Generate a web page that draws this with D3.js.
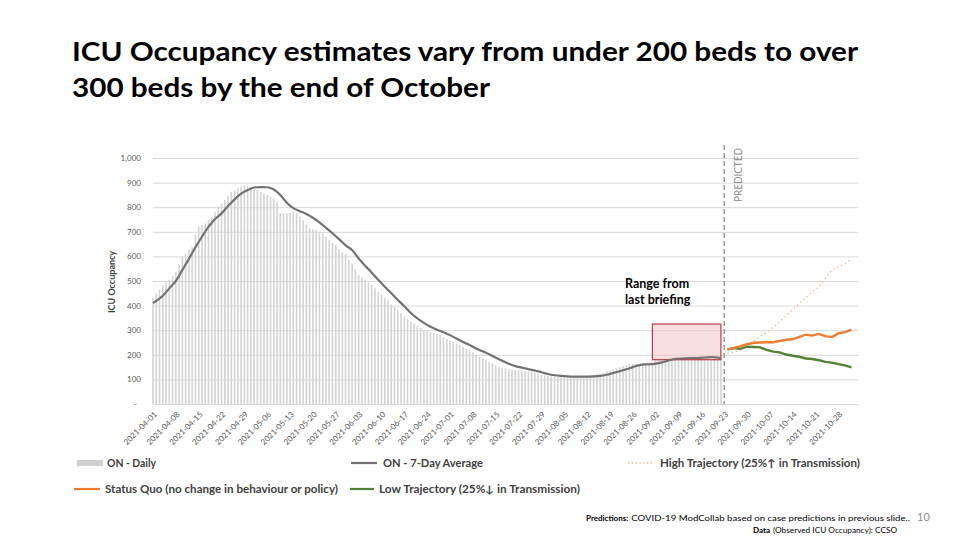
<!DOCTYPE html>
<html>
<head>
<meta charset="utf-8">
<script src="https://cdn.jsdelivr.net/npm/d3@7"></script>
<style>
  body { margin: 0; background: #fff; }
  svg { display: block; font-family: Lato, "Open Sans", sans-serif; }
</style>
</head>
<body>
<svg id="chart" width="960" height="540"></svg>
<script>
// observed daily ICU occupancy, one value per day from 2021-04-01 to 2021-09-22
var startDate = "2021-04-01";
var dailyValues = [
  430, 450, 465, 484, 495, 504, 520, 538, 565, 599,
  612, 626, 640, 687, 721, 728, 734, 748, 761, 780,
  802, 815, 829, 845, 863, 868, 876, 880, 886, 885,
  876, 872, 870, 862, 856, 850, 843, 835, 822, 775,
  775, 775, 778, 782, 775, 760, 748, 730, 714, 710,
  707, 700, 694, 680, 667, 655, 646, 630, 619,
  610, 585, 570, 548, 524, 515, 505, 495, 484, 470,
  455, 445, 430, 420, 405, 395, 382, 370, 355, 345,
  335, 328, 318, 310, 301, 298, 292, 288, 284, 280,
  272, 265, 258, 253, 246, 240, 232, 226, 218, 210,
  200, 192, 185, 178, 170, 165, 158, 152, 148, 145,
  142, 140, 139, 138, 136, 134, 132, 131, 127, 123,
  119, 116, 114, 112, 111, 110, 110, 109, 110, 110,
  111, 111, 112, 113, 114, 116, 118, 121, 124, 128,
  132, 136, 140, 145, 150, 155, 158, 162, 163, 164,
  163, 164, 166, 168, 172, 176, 180, 184, 187, 188,
  188, 189, 190, 188, 189, 190, 191, 192, 190, 191,
  192, 193, 192, 190, 188, 187
];

// 7-day average, day offsets from startDate
var avgDays = [0, 3, 5, 7, 9, 11, 13, 15, 17, 19, 21, 23, 25, 27, 29, 31, 33, 35, 37, 39,
  41, 43, 45, 47, 49, 51, 53, 55, 57, 59, 61, 63, 65, 67, 69, 71, 73, 75, 77, 79,
  81, 83, 85, 87, 89, 91, 93, 95, 97, 99, 101, 103, 105, 107, 109, 111, 113, 115, 117, 119,
  121, 123, 125, 127, 129, 131, 133, 135, 137, 139, 141, 143, 145, 147, 149, 151, 153, 155, 157, 159,
  161, 163, 165, 167, 169, 171, 173, 174];
var avgValues = [410, 440, 470, 500, 545, 590, 637, 680, 720, 752,
  775, 805, 832, 855, 870, 880, 882, 881, 872, 850,
  818, 796, 784, 772, 757, 738, 716, 694, 670, 645,
  626, 592, 562, 534, 505, 477, 450, 423, 397, 370,
  348, 330, 314, 302, 292, 280, 266, 252, 240, 226,
  214, 202, 188, 176, 164, 154, 148, 142, 136, 129,
  122, 117, 114, 112, 111, 111, 111, 112, 114, 119,
  126, 133, 141, 150, 158, 161, 162, 166, 173, 181,
  184, 186, 187, 187, 189, 191, 189, 186];

// predictions, day offsets from startDate (2021-09-24 .. 2021-11-01)
var predDays = [176, 178, 180, 182, 184, 186, 188, 190, 192, 194, 196, 198, 200, 202, 204, 206, 208, 210, 212, 214];
var statusQuo = [222, 228, 235, 243, 249, 250, 251, 251, 256, 261, 263, 273, 282, 278, 285, 276, 272, 287, 292, 302];
var lowTrajectory = [222, 227, 224, 233, 232, 230, 220, 213, 210, 201, 196, 192, 185, 183, 178, 171, 168, 162, 157, 149];
var highTrajectory = [206, 210, 220, 230, 255, 275, 290, 312, 335, 358, 385, 408, 433, 455, 476, 510, 545, 558, 570, 588];

var rangeDates = ["2021-09-01", "2021-09-22"];
var rangeValues = [180, 325];
var predictedFrom = "2021-09-23";
var yTicks = [0, 100, 200, 300, 400, 500, 600, 700, 800, 900, 1000];

var parse = d3.timeParse("%Y-%m-%d");
var t0 = parse(startDate);
function dayDate(d) { return d3.timeDay.offset(t0, d); }

var svg = d3.select("#chart");
var x = d3.scaleTime().domain([t0, parse("2021-11-03")]).range([153, 858]);
var y = d3.scaleLinear().domain([0, 1000]).range([404, 158]);

// title
var title = svg.append("g").attr("font-weight", 700).attr("font-size", 27).attr("fill", "#000");
title.append("text").attr("x", 72).attr("y", 61)
  .attr("textLength", 786).attr("lengthAdjust", "spacingAndGlyphs")
  .text("ICU Occupancy estimates vary from under 200 beds to over");
title.append("text").attr("x", 72).attr("y", 97)
  .attr("textLength", 418).attr("lengthAdjust", "spacingAndGlyphs")
  .text("300 beds by the end of October");

// y grid + labels
var yAxis = svg.append("g").attr("transform", "translate(153,0)")
  .call(d3.axisLeft(y).tickValues(yTicks).tickSize(-705).tickPadding(12)
    .tickFormat(function(d) { return d === 0 ? "-" : d3.format(",")(d); }));
yAxis.select(".domain").remove();
yAxis.selectAll("line").attr("stroke", "#d9d9d9");
yAxis.selectAll("text").attr("fill", "#595959").attr("font-size", 8).attr("font-family", "Lato, sans-serif");
yAxis.selectAll(".tick").filter(function(d) { return d === 0; }).select("line").remove();
yAxis.selectAll(".tick").filter(function(d) { return d === 0; }).select("text").attr("dx", -4);

svg.append("text")
  .attr("transform", "translate(115,282) rotate(-90)")
  .attr("text-anchor", "middle").attr("font-size", 9).attr("font-weight", 700)
  .attr("fill", "#404040").text("ICU Occupancy");

// x axis
var tickDates = d3.range(0, 211, 7).map(dayDate);
var xAxis = svg.append("g").attr("transform", "translate(0,404)")
  .call(d3.axisBottom(x).tickValues(tickDates).tickSize(0).tickFormat(d3.timeFormat("%Y-%m-%d")));
xAxis.select(".domain").attr("stroke", "#d9d9d9");
xAxis.selectAll("text")
  .attr("fill", "#595959").attr("font-size", 8).attr("font-family", "Lato, sans-serif")
  .attr("text-anchor", "end").attr("y", 0).attr("dy", "0.35em")
  .attr("transform", "translate(2,9) rotate(-45)");

// daily bars
svg.append("g").selectAll("rect").data(dailyValues).join("rect")
  .attr("x", function(d, i) { return x(dayDate(i)) - 0.8; })
  .attr("width", 1.6)
  .attr("y", function(d) { return y(d); })
  .attr("height", function(d) { return y(0) - y(d); })
  .attr("fill", "#d3d3d3");

// range from last briefing
var bx0 = x(parse(rangeDates[0])), bx1 = x(parse(rangeDates[1]));
svg.append("rect")
  .attr("x", bx0).attr("width", bx1 - bx0)
  .attr("y", y(rangeValues[1])).attr("height", y(rangeValues[0]) - y(rangeValues[1]))
  .attr("fill", "#f2b8bd").attr("fill-opacity", 0.45)
  .attr("stroke", "#b83a45").attr("stroke-width", 1.2);

var rangeLabel = svg.append("g").attr("font-size", 12.5).attr("font-weight", 700).attr("fill", "#000");
rangeLabel.append("text").attr("x", 625).attr("y", 288).text("Range from");
rangeLabel.append("text").attr("x", 625).attr("y", 304).text("last briefing");

// 7-day average
var avgLine = d3.line()
  .x(function(d) { return x(dayDate(d[0])); })
  .y(function(d) { return y(d[1]); })
  .curve(d3.curveMonotoneX);
svg.append("path").datum(d3.zip(avgDays, avgValues))
  .attr("d", avgLine).attr("fill", "none")
  .attr("stroke", "#767171").attr("stroke-width", 2.2);

// predicted marker
var px = x(parse(predictedFrom));
svg.append("line").attr("x1", px).attr("x2", px).attr("y1", 145).attr("y2", 404)
  .attr("stroke", "#7f7f7f").attr("stroke-width", 1.2).attr("stroke-dasharray", "5,3");
svg.append("text").attr("transform", "translate(" + (px + 18) + ",202) rotate(-90)")
  .attr("font-size", 11).attr("fill", "#8c8c8c")
  .attr("textLength", 54).attr("lengthAdjust", "spacingAndGlyphs")
  .text("PREDICTED");

// prediction lines
var predLine = d3.line()
  .x(function(d) { return x(dayDate(d[0])); })
  .y(function(d) { return y(d[1]); });
svg.append("path").datum(d3.zip(predDays, highTrajectory))
  .attr("d", predLine).attr("fill", "none")
  .attr("stroke", "#f4b183").attr("stroke-width", 1.3).attr("stroke-dasharray", "1.3,3");
svg.append("path").datum(d3.zip(predDays, lowTrajectory))
  .attr("d", predLine).attr("fill", "none")
  .attr("stroke", "#548235").attr("stroke-width", 2.4);
svg.append("path").datum(d3.zip(predDays, statusQuo))
  .attr("d", predLine).attr("fill", "none")
  .attr("stroke", "#ed7d31").attr("stroke-width", 2.4);

// legend
var legend = svg.append("g").attr("font-size", 10.5).attr("font-weight", 700).attr("fill", "#404040");
function legendText(xp, yp, len, txt) {
  legend.append("text").attr("x", xp).attr("y", yp).attr("dy", "0.35em")
    .attr("textLength", len).attr("lengthAdjust", "spacingAndGlyphs").text(txt);
}
legend.append("rect").attr("x", 77).attr("y", 460).attr("width", 26).attr("height", 6).attr("fill", "#d0d0d0");
legendText(107, 463, 49, "ON - Daily");
legend.append("line").attr("x1", 351).attr("x2", 377).attr("y1", 463).attr("y2", 463)
  .attr("stroke", "#767171").attr("stroke-width", 2.2);
legendText(383, 463, 100, "ON - 7-Day Average");
legend.append("line").attr("x1", 628).attr("x2", 654).attr("y1", 463).attr("y2", 463)
  .attr("stroke", "#f4b183").attr("stroke-width", 1.3).attr("stroke-dasharray", "1.3,2.5");
legendText(660, 463, 200, "High Trajectory (25%\u2191 in Transmission)");
legend.append("line").attr("x1", 74).attr("x2", 100).attr("y1", 489).attr("y2", 489)
  .attr("stroke", "#ed7d31").attr("stroke-width", 2.2);
legendText(105, 489, 233, "Status Quo (no change in behaviour or policy)");
legend.append("line").attr("x1", 350).attr("x2", 374).attr("y1", 489).attr("y2", 489)
  .attr("stroke", "#548235").attr("stroke-width", 2.2);
legendText(379, 489, 201, "Low Trajectory (25%\u2193 in Transmission)");

// footnotes
var foot = svg.append("g").attr("font-size", 8).attr("fill", "#000");
var p1 = foot.append("text").attr("x", 586).attr("y", 521).attr("font-weight", 700).text("Predictions:");
var w1 = p1.node().getComputedTextLength();
foot.append("text").attr("x", 586 + w1 + 3).attr("y", 521)
  .attr("textLength", 910 - (586 + w1 + 3)).attr("lengthAdjust", "spacingAndGlyphs")
  .text("COVID-19 ModCollab based on case predictions in previous slide..");
var p2 = foot.append("text").attr("x", 753).attr("y", 533).attr("font-weight", 700).text("Data");
var w2 = p2.node().getComputedTextLength();
foot.append("text").attr("x", 753 + w2 + 3).attr("y", 533)
  .attr("textLength", 897 - (753 + w2 + 3)).attr("lengthAdjust", "spacingAndGlyphs")
  .text("(Observed ICU Occupancy): CCSO");
svg.append("text").attr("x", 917).attr("y", 521).attr("font-size", 11).attr("fill", "#8c8c8c").text("10");
</script>
</body>
</html>
